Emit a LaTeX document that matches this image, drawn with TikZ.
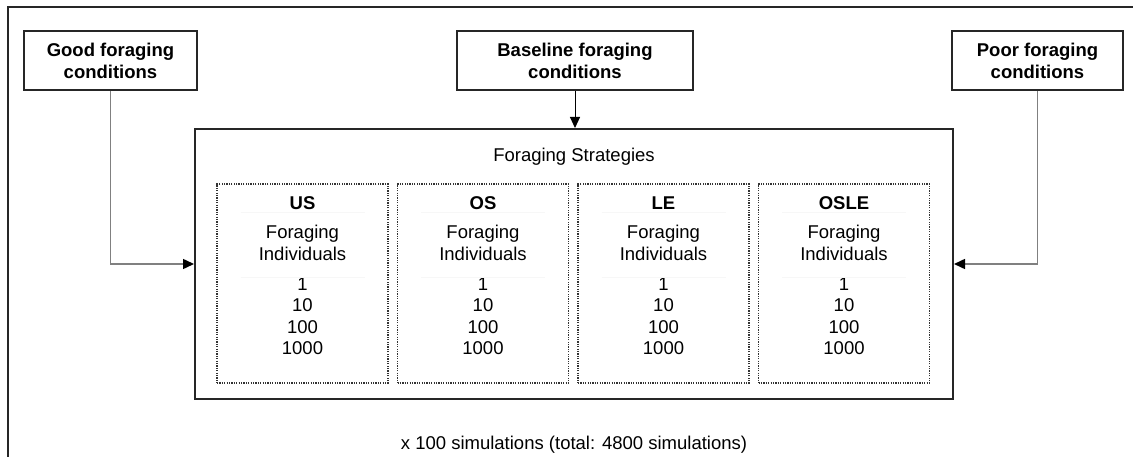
\documentclass[tikz,border=0pt]{standalone}
\usepackage{fontspec}
\setmainfont{Liberation Sans}
\usetikzlibrary{arrows.meta}
\begin{document}
\begin{tikzpicture}[x=1pt,y=1pt,
  txt/.style={font=\fontsize{18.5}{21.5}\selectfont, align=center, inner sep=0pt},
  cond/.style={draw=black!85, line width=2pt, txt, font=\fontsize{18.5}{22}\selectfont\bfseries, minimum height=59pt},
  strat/.style={draw=black!85, line width=2pt, minimum width=758pt, minimum height=270pt, inner sep=0pt},
  inner/.style={draw=black!80, line width=1.4pt, dash pattern=on 1.2pt off 1.2pt, minimum width=171pt, minimum height=199pt, inner sep=0pt},
  head/.style={txt, font=\fontsize{18.5}{21.5}\selectfont\bfseries},
  faint/.style={draw=black!3, line width=0.8pt},
  sidearrow/.style={draw=black!50, line width=1.5pt, -{Triangle[length=11pt,width=10pt,fill=black,color=black]}},
  toparrow/.style={draw=black, line width=1pt, -{Triangle[length=11pt,width=10pt]}}
]
\useasboundingbox (0,0) rectangle (1133,-457);
\fill[white] (0,0) rectangle (1133,-457);
% outer frame (cropped)
\draw[black!85, line width=2pt] (8,-460) -- (8,-7) -- (1136,-7);

\node[cond, minimum width=173pt] (good) at (110.5,-60.5) {Good foraging\\conditions};
\node[cond, minimum width=236pt] (base) at (575,-60.5) {Baseline foraging\\conditions};
\node[cond, minimum width=171pt] (poor) at (1037.5,-60.5) {Poor foraging\\conditions};

\node[strat] (st) at (574,-264) {};
\node[txt] (title) at (574,-157) {Foraging Strategies};

\foreach \n/\lab/\x in {us/US/302.5, os/OS/483, le/LE/663.5, osle/OSLE/844} {
  \node[inner] (\n) at (\x,-283.5) {};
  \node[head] (\n h) at (\x,-203) {\lab};
  \node[txt] (\n f) at (\x,-242.75) {Foraging\\Individuals};
  \node[txt] (\n v) at (\x,-316) {1\\10\\100\\1000};
  \draw[faint] ([xshift=-62pt]\n.center |- 0,-212.5) -- ([xshift=62pt]\n.center |- 0,-212.5);
  \draw[faint] ([xshift=-62pt]\n.center |- 0,-277) -- ([xshift=62pt]\n.center |- 0,-277);
}

\draw[sidearrow] (good.south) |- (st.west);
\draw[sidearrow] (poor.south) |- (st.east);
\draw[toparrow] (base.south) -- (base.south |- st.north);

\node[txt] (sims) at (574,-445) {x 100 simulations (total: 4800 simulations)};
\end{tikzpicture}
\end{document}
